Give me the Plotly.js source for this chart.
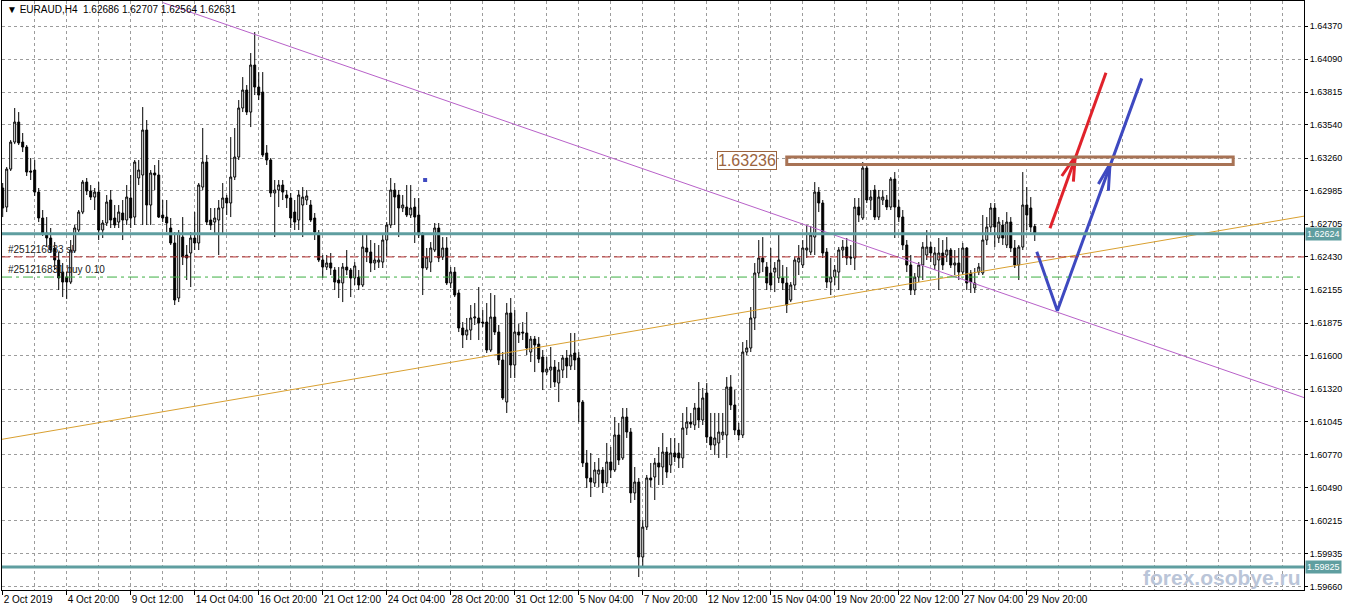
<!DOCTYPE html>
<html>
<head>
<meta charset="utf-8">
<script src="https://cdn.plot.ly/plotly-3.0.1.min.js"></script>
<style>
html,body{margin:0;padding:0;background:#fff;}
#chart{width:1350px;height:611px;}
</style>
</head>
<body>
<div id="chart"></div>
<script>
// ---------------- DATA ----------------
const symbolName = "EURAUD,H4";

const openP = [
1.63009,1.62849,1.63168,1.63395,1.63563,1.63395,1.63353,1.63152,1.63160,1.62975,
1.62757,1.62631,1.62589,1.62505,1.62404,1.62303,1.62261,1.62219,1.62480,1.62656,
1.62807,1.63059,1.62984,1.62933,1.62975,1.62656,1.62715,1.62908,1.62757,1.62723,
1.62799,1.62740,1.62925,1.62765,1.63093,1.63118,1.63496,1.62866,1.63135,1.63118,
1.62782,1.62765,1.62673,1.62547,1.62085,1.62597,1.62446,1.62463,1.62589,1.62547,
1.63017,1.63227,1.62740,1.62723,1.62740,1.62841,1.62925,1.62883,1.63101,1.63269,
1.63681,1.63832,1.63647,1.64042,1.63857,1.63815,1.63303,1.63244,1.62967,1.62992,
1.63034,1.62950,1.62925,1.62807,1.62740,1.62866,1.62908,1.62866,1.62757,1.62631,
1.62404,1.62345,1.62379,1.62320,1.62236,1.62211,1.62345,1.62320,1.62253,1.62261,
1.62194,1.62505,1.62471,1.62379,1.62387,1.62387,1.62572,1.62698,1.62992,1.62950,
1.62841,1.62849,1.62782,1.62849,1.62782,1.62614,1.62337,1.62387,1.62488,1.62673,
1.62429,1.62505,1.62211,1.62303,1.62127,1.61833,1.61774,1.61816,1.61917,1.61917,
1.61883,1.61883,1.61648,1.61925,1.61799,1.61564,1.61211,1.61959,1.61522,1.61799,
1.61799,1.61791,1.61631,1.61740,1.61698,1.61589,1.61463,1.61480,1.61505,1.61371,
1.61480,1.61581,1.61514,1.61623,1.61581,1.61211,1.60699,1.60573,1.60531,1.60606,
1.60640,1.60531,1.60707,1.60640,1.60934,1.60741,1.61085,1.60959,1.60447,1.60539,
1.59909,1.60161,1.60573,1.60581,1.60699,1.60665,1.60791,1.60682,1.60783,1.60783,
1.60741,1.60993,1.61043,1.61018,1.61161,1.61060,1.61287,1.60917,1.60850,1.60867,
1.60934,1.60934,1.61337,1.61186,1.60976,1.60934,1.61631,1.61665,1.61917,1.62295,
1.62421,1.62345,1.62295,1.62303,1.62253,1.62253,1.62211,1.62068,1.62194,1.62387,
1.62362,1.62488,1.62471,1.62597,1.62975,1.62883,1.62471,1.62219,1.62261,1.62303,
1.62488,1.62513,1.62429,1.62421,1.62849,1.62757,1.63177,1.62908,1.62992,1.62765,
1.62908,1.62908,1.62849,1.63084,1.62849,1.62765,1.62530,1.62362,1.62152,1.62261,
1.62362,1.62446,1.62513,1.62362,1.62404,1.62463,1.62446,1.62488,1.62362,1.62379,
1.62303,1.62505,1.62295,1.62169,1.62303,1.62295,1.62572,1.62681,1.62841,1.62589,
1.62698,1.62530,1.62723,1.62505,1.62362,1.62513,1.62866,1.62841,1.62686
];
const highP = [
1.63051,1.63185,1.63412,1.63681,1.63647,1.63471,1.63370,1.63261,1.63244,1.63009,
1.62824,1.62765,1.62673,1.62555,1.62471,1.62379,1.62303,1.62572,1.62698,1.62824,
1.63076,1.63093,1.63034,1.63009,1.63059,1.62740,1.62950,1.62992,1.62866,1.62866,
1.62908,1.63034,1.63118,1.63244,1.63244,1.63689,1.63580,1.63160,1.63202,1.63244,
1.62908,1.62908,1.62757,1.62639,1.62656,1.62765,1.62530,1.62639,1.62807,1.63051,
1.63513,1.63286,1.62841,1.62841,1.62908,1.63051,1.62950,1.63437,1.63513,1.63748,
1.63941,1.63874,1.64143,1.64319,1.63983,1.63983,1.63370,1.63261,1.63076,1.63076,
1.63076,1.62992,1.62967,1.62908,1.62992,1.63017,1.62992,1.62908,1.62799,1.62656,
1.62446,1.62446,1.62463,1.62345,1.62345,1.62379,1.62488,1.62337,1.62387,1.62320,
1.62614,1.62614,1.62572,1.62547,1.62530,1.62614,1.62723,1.63093,1.63051,1.62992,
1.62950,1.63034,1.63034,1.62925,1.62925,1.62639,1.62505,1.62555,1.62715,1.62715,
1.62597,1.62597,1.62345,1.62345,1.62152,1.61883,1.61917,1.62026,1.62043,1.62177,
1.61984,1.62043,1.62127,1.62110,1.61858,1.61631,1.62043,1.62085,1.61984,1.61866,
1.61883,1.61967,1.61766,1.61766,1.61757,1.61648,1.61589,1.61673,1.61564,1.61547,
1.61606,1.61648,1.61791,1.61791,1.61631,1.61228,1.60808,1.60783,1.60707,1.60741,
1.60665,1.60867,1.60833,1.61085,1.61035,1.61161,1.61161,1.60993,1.60665,1.60573,
1.60220,1.60598,1.60699,1.60741,1.60833,1.60951,1.60833,1.60909,1.60909,1.60867,
1.61119,1.61169,1.61119,1.61203,1.61379,1.61329,1.61371,1.61119,1.61119,1.61119,
1.61119,1.61421,1.61438,1.61312,1.61035,1.61715,1.61732,1.62009,1.62379,1.62572,
1.62597,1.62387,1.62505,1.62387,1.62631,1.62362,1.62345,1.62219,1.62429,1.62530,
1.62572,1.62698,1.62690,1.63059,1.63017,1.62908,1.62505,1.62421,1.62362,1.62513,
1.62572,1.62589,1.62530,1.62925,1.62925,1.63227,1.63202,1.62992,1.63034,1.62992,
1.62992,1.62950,1.63101,1.63143,1.62908,1.62824,1.62572,1.62446,1.62295,1.62387,
1.62555,1.62656,1.62555,1.62513,1.62589,1.62572,1.62597,1.62505,1.62488,1.62505,
1.62547,1.62513,1.62320,1.62337,1.62379,1.62782,1.62765,1.62883,1.62883,1.62765,
1.62740,1.62807,1.62765,1.62572,1.62530,1.63143,1.63017,1.62933,1.62707
];
const lowP = [
1.62765,1.62807,1.63152,1.63378,1.63370,1.63311,1.63110,1.63076,1.62942,1.62723,
1.62606,1.62513,1.62463,1.62320,1.62152,1.62093,1.62076,1.62202,1.62463,1.62639,
1.62790,1.62950,1.62908,1.62824,1.62572,1.62589,1.62690,1.62673,1.62673,1.62673,
1.62572,1.62698,1.62673,1.62698,1.63034,1.62698,1.62698,1.62698,1.62992,1.62757,
1.62723,1.62639,1.62530,1.62026,1.62051,1.62362,1.62236,1.62177,1.62488,1.62488,
1.62992,1.62698,1.62656,1.62614,1.62446,1.62631,1.62782,1.62765,1.63076,1.63244,
1.63647,1.63622,1.63521,1.63790,1.63748,1.63269,1.63202,1.62933,1.62597,1.62849,
1.62908,1.62841,1.62673,1.62656,1.62656,1.62597,1.62866,1.62723,1.62572,1.62387,
1.62253,1.62320,1.62278,1.62152,1.62085,1.62051,1.62278,1.62093,1.62194,1.62152,
1.62177,1.62387,1.62303,1.62320,1.62337,1.62337,1.62438,1.62673,1.62698,1.62597,
1.62807,1.62765,1.62757,1.62547,1.62589,1.62110,1.62320,1.62303,1.62471,1.62387,
1.62404,1.62194,1.62169,1.62093,1.61799,1.61665,1.61732,1.61732,1.61858,1.61732,
1.61841,1.61623,1.61631,1.61774,1.61522,1.61228,1.61119,1.61413,1.61413,1.61707,
1.61732,1.61606,1.61547,1.61463,1.61539,1.61312,1.61438,1.61329,1.61337,1.61211,
1.61413,1.61413,1.61480,1.61480,1.61043,1.60665,1.60489,1.60413,1.60497,1.60497,
1.60447,1.60497,1.60573,1.60623,1.60682,1.60724,1.60909,1.60363,1.60388,1.59741,
1.59825,1.60136,1.60497,1.60388,1.60514,1.60514,1.60573,1.60615,1.60707,1.60657,
1.60657,1.60934,1.60993,1.60976,1.60993,1.61018,1.60867,1.60808,1.60766,1.60741,
1.60892,1.60741,1.61144,1.60934,1.60892,1.60909,1.61606,1.61631,1.61816,1.62253,
1.62303,1.62152,1.62152,1.62135,1.62211,1.62152,1.61959,1.62051,1.62152,1.62278,
1.62337,1.62421,1.62446,1.62446,1.62807,1.62421,1.62169,1.62110,1.62194,1.62152,
1.62421,1.62362,1.62362,1.62320,1.62723,1.62740,1.62883,1.62824,1.62740,1.62740,
1.62866,1.62824,1.62824,1.62589,1.62723,1.62488,1.62303,1.62110,1.62110,1.62219,
1.62236,1.62404,1.62387,1.62320,1.62152,1.62320,1.62387,1.62337,1.62278,1.62236,
1.62278,1.62152,1.62127,1.62127,1.62278,1.62278,1.62530,1.62639,1.62513,1.62547,
1.62530,1.62505,1.62471,1.62337,1.62236,1.62488,1.62656,1.62639,1.62564
];
const closeP = [
1.62841,1.63168,1.63395,1.63563,1.63387,1.63353,1.63143,1.63143,1.62975,1.62757,
1.62631,1.62589,1.62488,1.62404,1.62253,1.62219,1.62219,1.62488,1.62673,1.62807,
1.63059,1.62984,1.62933,1.62975,1.62656,1.62715,1.62891,1.62740,1.62698,1.62807,
1.62740,1.62933,1.62757,1.63227,1.63160,1.63496,1.62866,1.63135,1.63118,1.62765,
1.62757,1.62715,1.62547,1.62068,1.62631,1.62429,1.62421,1.62589,1.62547,1.63034,
1.63227,1.62723,1.62698,1.62757,1.62841,1.62925,1.62883,1.63101,1.63269,1.63681,
1.63832,1.63647,1.64042,1.63857,1.63790,1.63286,1.63244,1.62967,1.62992,1.63034,
1.62975,1.62925,1.62757,1.62723,1.62950,1.62933,1.62942,1.62740,1.62639,1.62404,
1.62345,1.62379,1.62337,1.62219,1.62211,1.62345,1.62320,1.62253,1.62354,1.62194,
1.62513,1.62471,1.62379,1.62404,1.62404,1.62572,1.62698,1.62992,1.62933,1.62841,
1.62866,1.62782,1.62841,1.62765,1.62614,1.62337,1.62429,1.62505,1.62673,1.62421,
1.62505,1.62211,1.62303,1.62110,1.61833,1.61774,1.61816,1.61917,1.61925,1.61875,
1.61875,1.61648,1.61925,1.61799,1.61564,1.61245,1.61959,1.61522,1.61799,1.61774,
1.61791,1.61665,1.61740,1.61690,1.61572,1.61463,1.61488,1.61505,1.61379,1.61480,
1.61581,1.61514,1.61606,1.61564,1.61211,1.60699,1.60573,1.60539,1.60640,1.60640,
1.60531,1.60707,1.60640,1.60934,1.60724,1.61085,1.60959,1.60447,1.60539,1.59909,
1.60161,1.60573,1.60556,1.60699,1.60665,1.60791,1.60623,1.60783,1.60749,1.60741,
1.60993,1.61043,1.61026,1.61161,1.61060,1.61245,1.60917,1.60850,1.60909,1.60959,
1.60959,1.61337,1.61186,1.60976,1.60934,1.61631,1.61665,1.61917,1.62295,1.62421,
1.62387,1.62211,1.62194,1.62337,1.62404,1.62211,1.62026,1.62194,1.62404,1.62421,
1.62505,1.62505,1.62614,1.62975,1.62883,1.62463,1.62219,1.62261,1.62320,1.62488,
1.62513,1.62421,1.62421,1.62849,1.62782,1.63177,1.62908,1.62933,1.62765,1.62933,
1.62933,1.62849,1.63084,1.62849,1.62765,1.62530,1.62362,1.62152,1.62261,1.62362,
1.62513,1.62513,1.62463,1.62463,1.62463,1.62362,1.62488,1.62362,1.62379,1.62303,
1.62505,1.62211,1.62219,1.62211,1.62345,1.62572,1.62681,1.62841,1.62681,1.62723,
1.62589,1.62723,1.62505,1.62362,1.62513,1.62866,1.62782,1.62681,1.62631
];

// x-axis time labels (one every 16 H4 bars)
const dateLabels = ["2 Oct 2019","4 Oct 20:00","9 Oct 12:00","14 Oct 04:00","16 Oct 20:00",
  "21 Oct 12:00","24 Oct 04:00","28 Oct 20:00","31 Oct 12:00","5 Nov 04:00","7 Nov 20:00",
  "12 Nov 12:00","15 Nov 04:00","19 Nov 20:00","22 Nov 12:00","27 Nov 04:00","29 Nov 20:00"];
// y-axis price labels
const priceTicks = [1.64370,1.64090,1.63815,1.63540,1.63260,1.62985,1.62705,1.62430,1.62155,
  1.61875,1.61600,1.61320,1.61045,1.60770,1.60490,1.60215,1.59935,1.59660];

// horizontal levels
const levelPrices = [1.62624, 1.59825];
const stopLossPrice = 1.62430;
const buyPrice = 1.62261;
const orderLabels = ["#251216833 sl", "#251216831 buy 0.10"];

// resistance zone (rectangle) and its label
const zoneBars = [196.0, 307.6];
const zonePrices = [1.63206, 1.63269];
const zoneLabel = "1.63236";
const zoneLabelBar = 186.1;

// trend lines (bar index, price)
const orangeTrendBars = [0, 320];
const orangeTrendPrices = [1.60899, 1.62742];
const purpleTrendBars = [40, 320];
const purpleTrendPrices = [1.64567, 1.61310];

// forecast arrows
const redArrowBars = [261.8, 275.8];
const redArrowPrices = [1.62670, 1.63977];
const redHeadBars = [264.75, 268.1, 267.65];
const redHeadPrices = [1.63110, 1.63272, 1.63062];
const bluePathBars = [258.5, 263.65, 284.75];
const bluePathPrices = [1.62474, 1.61978, 1.63930];
const blueHeadBars = [273.9, 276.8, 276.4];
const blueHeadPrices = [1.63042, 1.63210, 1.62986];
const blueDotBar = [105.6];
const blueDotPrice = [1.63076];

const watermark = "forex.osobye.ru";

// ---------------- CHART ----------------
const barsPerLabel = 16;
const xRange = [-0.175, 325.3];
const yRange = [1.59632, 1.64580];
const xs = openP.map((_, i) => i);
const labelVals = dateLabels.map((_, i) => i * barsPerLabel);
const gridColor = '#9c9c9c';
const gridDash = '3px,3px';

function extend(bars, prices, x0, x1) {
  const s = (prices[1] - prices[0]) / (bars[1] - bars[0]);
  return { x: [x0, x1], y: [prices[0] + s * (x0 - bars[0]), prices[0] + s * (x1 - bars[0])] };
}
const orange = extend(orangeTrendBars, orangeTrendPrices, xRange[0], xRange[1]);
const purple = extend(purpleTrendBars, purpleTrendPrices, purpleTrendBars[0], xRange[1]);

const traces = [
  {
    type: 'candlestick', x: xs, open: openP, high: highP, low: lowP, close: closeP,
    increasing: { line: { color: '#000', width: 1 }, fillcolor: '#ffffff' },
    decreasing: { line: { color: '#000', width: 1 }, fillcolor: '#000000' },
    whiskerwidth: 0, hoverinfo: 'skip', showlegend: false
  },
  { type: 'scatter', mode: 'lines', x: orange.x, y: orange.y, line: { color: '#D9A030', width: 1 }, hoverinfo: 'skip' },
  { type: 'scatter', mode: 'lines', x: purple.x, y: purple.y, line: { color: '#B861C9', width: 1 }, hoverinfo: 'skip' },
  { type: 'scatter', mode: 'lines', x: redArrowBars, y: redArrowPrices, line: { color: '#E0222B', width: 3 }, hoverinfo: 'skip' },
  { type: 'scatter', mode: 'lines', x: redHeadBars, y: redHeadPrices, line: { color: '#E0222B', width: 3 }, hoverinfo: 'skip' },
  { type: 'scatter', mode: 'lines', x: bluePathBars, y: bluePathPrices, line: { color: '#3E49C0', width: 3 }, hoverinfo: 'skip' },
  { type: 'scatter', mode: 'lines', x: blueHeadBars, y: blueHeadPrices, line: { color: '#3E49C0', width: 3 }, hoverinfo: 'skip' },
  { type: 'scatter', mode: 'markers', x: blueDotBar, y: blueDotPrice, marker: { symbol: 'square', size: 4, color: '#3E49C0' }, hoverinfo: 'skip' }
];

const shapes = [];
levelPrices.forEach(p => shapes.push({
  type: 'line', xref: 'paper', x0: 0, x1: 1, yref: 'y', y0: p, y1: p,
  line: { color: '#5F9EA0', width: 3 }
}));
shapes.push({ type: 'line', xref: 'paper', x0: 0, x1: 1, yref: 'y', y0: stopLossPrice, y1: stopLossPrice,
  line: { color: '#B83232', width: 1, dash: '8px,4px' } });
shapes.push({ type: 'line', xref: 'paper', x0: 0, x1: 1, yref: 'y', y0: buyPrice, y1: buyPrice,
  line: { color: '#3CB043', width: 1, dash: '10px,4px,3px,4px' } });
shapes.push({ type: 'rect', xref: 'x', yref: 'y', x0: zoneBars[0], x1: zoneBars[1], y0: zonePrices[0], y1: zonePrices[1],
  line: { color: '#A87355', width: 3 }, fillcolor: 'rgba(0,0,0,0)' });

const last = openP.length - 1;
const header = '▼ ' + symbolName + '&nbsp;&nbsp;' + [openP[last], highP[last], lowP[last], closeP[last]].map(v => v.toFixed(5)).join(' ');

const annotations = [
  { xref: 'paper', yref: 'paper', x: 0, y: 1, xanchor: 'left', yanchor: 'top', xshift: 3, yshift: -1,
    text: header, showarrow: false, font: { size: 10, color: '#000' } },
  { xref: 'paper', yref: 'y', x: 0, y: stopLossPrice, xanchor: 'left', yanchor: 'bottom', xshift: 4, yshift: 0,
    text: orderLabels[0], showarrow: false, font: { size: 10, color: '#202020' } },
  { xref: 'paper', yref: 'y', x: 0, y: buyPrice, xanchor: 'left', yanchor: 'bottom', xshift: 4, yshift: 0,
    text: orderLabels[1], showarrow: false, font: { size: 10, color: '#202020' } },
  { xref: 'x', yref: 'y', x: zoneLabelBar, y: parseFloat(zoneLabel), xanchor: 'center', yanchor: 'middle',
    text: zoneLabel, showarrow: false, font: { size: 16, color: '#9A6440' },
    bgcolor: '#ffffff', bordercolor: '#9A6440', borderwidth: 1, borderpad: 0 },
  { xref: 'paper', yref: 'paper', x: 0.937, y: 0.022, xanchor: 'center', yanchor: 'middle',
    text: '<b>' + watermark + '</b>', showarrow: false, font: { size: 21, color: '#BAC5D8' } }
];
levelPrices.forEach(p => annotations.push({
  xref: 'paper', yref: 'y', x: 1, y: p, xanchor: 'left', yanchor: 'middle', xshift: 1,
  text: p.toFixed(5), showarrow: false, font: { size: 9, color: '#ffffff' },
  bgcolor: '#5F9EA0', borderpad: 1
}));

const layout = {
  width: 1350, height: 611,
  margin: { l: 2, r: 46, t: 1, b: 21 },
  paper_bgcolor: '#ffffff', plot_bgcolor: '#ffffff',
  showlegend: false, hovermode: false,
  font: { family: 'Liberation Sans, Arial, sans-serif', size: 10, color: '#000' },
  xaxis: {
    type: 'linear', range: xRange, fixedrange: true,
    rangeslider: { visible: false },
    tickmode: 'array', tickvals: labelVals, ticktext: dateLabels,
    tickangle: 0, automargin: false,
    ticks: 'outside', ticklen: 4, tickcolor: '#000', tickwidth: 1,
    ticklabelposition: 'outside right',
    tickfont: { size: 10, color: '#000' },
    showgrid: true, gridcolor: gridColor, griddash: gridDash, gridwidth: 1,
    minor: { tickmode: 'linear', tick0: 0, dtick: 8, showgrid: true, gridcolor: gridColor, griddash: gridDash, gridwidth: 1, ticks: '' },
    showline: true, linecolor: '#000', linewidth: 1, mirror: true, zeroline: false
  },
  yaxis: {
    side: 'right', range: yRange, fixedrange: true, automargin: false,
    tickmode: 'array', tickvals: priceTicks, ticktext: priceTicks.map(v => v.toFixed(5)),
    ticks: 'outside', ticklen: 3, tickcolor: '#000', tickwidth: 1,
    tickfont: { size: 9, color: '#000' },
    showgrid: true, gridcolor: gridColor, griddash: gridDash, gridwidth: 1,
    showline: true, linecolor: '#000', linewidth: 1, mirror: true, zeroline: false
  },
  shapes: shapes,
  annotations: annotations
};

Plotly.newPlot('chart', traces, layout, { staticPlot: true, displayModeBar: false });
</script>
</body>
</html>
